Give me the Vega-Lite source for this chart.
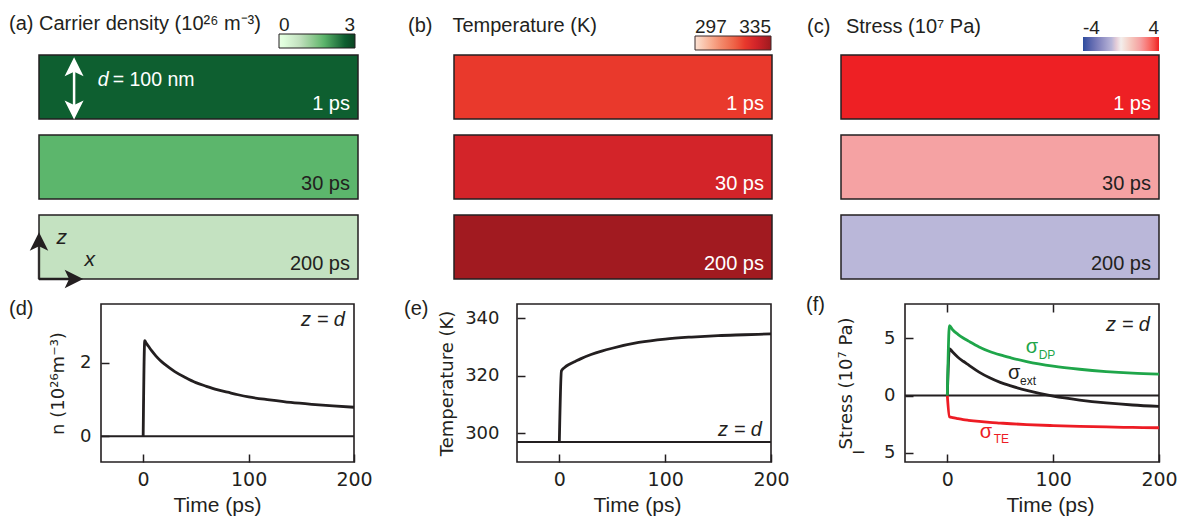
{
  "$schema": "https://vega.github.io/schema/vega-lite/v6.json",
  "background": "white",
  "padding": {"left": 8, "top": 14, "right": 2, "bottom": 2},
  "datasets": {
    "carrier": [{"time": "1 ps", "n": 2.6}, {"time": "30 ps", "n": 1.76}, {"time": "200 ps", "n": 0.79}],
    "tempmap": [{"time": "1 ps", "T": 321.7}, {"time": "30 ps", "T": 327.4}, {"time": "200 ps", "T": 334.6}],
    "stressmap": [{"time": "1 ps", "s": 4.0}, {"time": "30 ps", "s": 2.0}, {"time": "200 ps", "s": -0.94}],
    "dens": [
      {"t": 0, "n": 0}, {"t": 1.5, "n": 2.6}, {"t": 3, "n": 2.53}, {"t": 5, "n": 2.45}, {"t": 8, "n": 2.33},
      {"t": 12, "n": 2.19}, {"t": 16, "n": 2.07}, {"t": 20, "n": 1.97}, {"t": 25, "n": 1.86}, {"t": 30, "n": 1.76},
      {"t": 40, "n": 1.6}, {"t": 50, "n": 1.46}, {"t": 60, "n": 1.36}, {"t": 70, "n": 1.27}, {"t": 80, "n": 1.2},
      {"t": 90, "n": 1.13}, {"t": 100, "n": 1.07}, {"t": 120, "n": 0.99}, {"t": 140, "n": 0.92}, {"t": 160, "n": 0.87},
      {"t": 180, "n": 0.83}, {"t": 200, "n": 0.79}
    ],
    "temp": [
      {"t": 0, "T": 297}, {"t": 2, "T": 321.7}, {"t": 5, "T": 322.9}, {"t": 10, "T": 324.1}, {"t": 15, "T": 325},
      {"t": 20, "T": 325.9}, {"t": 30, "T": 327.4}, {"t": 40, "T": 328.6}, {"t": 50, "T": 329.6}, {"t": 75, "T": 331.6},
      {"t": 100, "T": 332.8}, {"t": 125, "T": 333.5}, {"t": 150, "T": 334.0}, {"t": 175, "T": 334.3}, {"t": 200, "T": 334.6}
    ],
    "stress": [
      {"t": 0, "series": "ext", "s": 0}, {"t": 2, "series": "ext", "s": 4.1}, {"t": 5, "series": "ext", "s": 3.8},
      {"t": 10, "series": "ext", "s": 3.35}, {"t": 15, "series": "ext", "s": 3.0}, {"t": 20, "series": "ext", "s": 2.68},
      {"t": 30, "series": "ext", "s": 2.05}, {"t": 40, "series": "ext", "s": 1.55}, {"t": 50, "series": "ext", "s": 1.15},
      {"t": 60, "series": "ext", "s": 0.85}, {"t": 75, "series": "ext", "s": 0.45}, {"t": 100, "series": "ext", "s": -0.05},
      {"t": 125, "series": "ext", "s": -0.39}, {"t": 150, "series": "ext", "s": -0.64}, {"t": 175, "series": "ext", "s": -0.82},
      {"t": 200, "series": "ext", "s": -0.94},
      {"t": 0, "series": "TE", "s": 0}, {"t": 2, "series": "TE", "s": -1.85}, {"t": 5, "series": "TE", "s": -1.93},
      {"t": 10, "series": "TE", "s": -2.02}, {"t": 15, "series": "TE", "s": -2.1}, {"t": 20, "series": "TE", "s": -2.16},
      {"t": 30, "series": "TE", "s": -2.26}, {"t": 40, "series": "TE", "s": -2.34}, {"t": 50, "series": "TE", "s": -2.4},
      {"t": 60, "series": "TE", "s": -2.46}, {"t": 75, "series": "TE", "s": -2.53}, {"t": 100, "series": "TE", "s": -2.62},
      {"t": 125, "series": "TE", "s": -2.69}, {"t": 150, "series": "TE", "s": -2.74}, {"t": 175, "series": "TE", "s": -2.78},
      {"t": 200, "series": "TE", "s": -2.81},
      {"t": 0, "series": "DP", "s": 0}, {"t": 2, "series": "DP", "s": 6.1}, {"t": 5, "series": "DP", "s": 5.75},
      {"t": 10, "series": "DP", "s": 5.35}, {"t": 15, "series": "DP", "s": 5.03}, {"t": 20, "series": "DP", "s": 4.76},
      {"t": 30, "series": "DP", "s": 4.25}, {"t": 40, "series": "DP", "s": 3.85}, {"t": 50, "series": "DP", "s": 3.55},
      {"t": 60, "series": "DP", "s": 3.3}, {"t": 75, "series": "DP", "s": 2.97}, {"t": 100, "series": "DP", "s": 2.57},
      {"t": 125, "series": "DP", "s": 2.3}, {"t": 150, "series": "DP", "s": 2.1}, {"t": 175, "series": "DP", "s": 1.96},
      {"t": 200, "series": "DP", "s": 1.87}
    ]
  },
  "config": {
    "view": {"stroke": "#231f20", "strokeWidth": 1.6},
    "axis": {
      "domain": false, "grid": false, "tickColor": "#231f20", "tickWidth": 1.5, "tickSize": -8,
      "labelColor": "#231f20", "titleColor": "#231f20", "labelFont": "DejaVu Sans", "titleFont": "DejaVu Sans",
      "titleFontWeight": "normal", "labelFlush": false, "labelOverlap": false
    },
    "title": {"font": "Liberation Sans", "fontSize": 20, "fontWeight": "normal", "color": "#231f20", "anchor": "start", "frame": "group", "baseline": "alphabetic"},
    "text": {"font": "Liberation Sans", "color": "#231f20"},
    "legend": {"labelFont": "Liberation Sans", "labelFontSize": 19, "labelColor": "#231f20", "padding": 0}
  },
  "spacing": 4,
  "vconcat": [
    {
      "spacing": 49,
      "resolve": {"scale": {"color": "independent"}, "legend": {"color": "independent"}},
      "hconcat": [
        {
          "width": 319, "height": 224,
          "view": {"stroke": null},
          "title": {"text": "(a) Carrier density (10\u00b2\u2076 m\u207b\u00b3)", "dx": -30, "offset": 0},
          "layer": [
            {
              "data": {"name": "carrier"},
              "mark": {"type": "rect", "stroke": "#231f20", "strokeWidth": 1.5},
              "encoding": {
                "y": {"field": "time", "type": "nominal", "scale": {"type": "band", "domain": ["1 ps", "30 ps", "200 ps"], "paddingInner": 0.2, "paddingOuter": 0}, "axis": null},
                "x": {"datum": 0, "type": "quantitative", "scale": {"domain": [0, 1]}, "axis": null},
                "x2": {"datum": 1},
                "color": {
                  "field": "n", "type": "quantitative",
                  "scale": {"domain": [0, 0.79, 1.76, 2.6, 3], "range": ["#ffffff", "#c4e2c1", "#5cb66c", "#0e5f30", "#0b4423"]},
                  "legend": {"orient": "none", "legendX": 240, "legendY": -21, "direction": "horizontal", "gradientLength": 76, "gradientThickness": 14, "title": null, "values": [0, 3], "labelOffset": -32, "gradientStrokeColor": "#231f20", "gradientStrokeWidth": 1}
                }
              }
            },
            {
              "data": {"name": "carrier"},
              "mark": {"type": "text", "align": "right", "baseline": "alphabetic", "dx": -8, "dy": -9, "fontSize": 20},
              "encoding": {
                "y": {"field": "time", "type": "nominal", "bandPosition": 1, "scale": {"type": "band", "domain": ["1 ps", "30 ps", "200 ps"], "paddingInner": 0.2, "paddingOuter": 0}, "axis": null},
                "x": {"datum": 1, "type": "quantitative", "axis": null},
                "text": {"field": "time"},
                "color": {"condition": {"test": "datum.time === '1 ps'", "value": "white"}, "value": "#231f20"}
              }
            },
            {
              "data": {"values": [{"time": "1 ps"}]},
              "layer": [
                {
                  "mark": {"type": "tick", "color": "white", "thickness": 2.5, "size": 44, "opacity": 1},
                  "encoding": {
                    "y": {"field": "time", "type": "nominal", "scale": {"type": "band", "domain": ["1 ps", "30 ps", "200 ps"], "paddingInner": 0.2, "paddingOuter": 0}, "axis": null},
                    "x": {"datum": 0.11, "type": "quantitative", "axis": null}
                  }
                },
                {
                  "mark": {"type": "point", "shape": "M0,-1 L0.95,0.9 L0,0.45 L-0.95,0.9 Z", "filled": true, "color": "white", "size": 400, "opacity": 1},
                  "encoding": {
                    "y": {"field": "time", "type": "nominal", "bandPosition": 0.19, "scale": {"type": "band", "domain": ["1 ps", "30 ps", "200 ps"], "paddingInner": 0.2, "paddingOuter": 0}, "axis": null},
                    "x": {"datum": 0.11, "type": "quantitative", "axis": null}
                  }
                },
                {
                  "mark": {"type": "point", "shape": "M0,1 L0.95,-0.9 L0,-0.45 L-0.95,-0.9 Z", "filled": true, "color": "white", "size": 400, "opacity": 1},
                  "encoding": {
                    "y": {"field": "time", "type": "nominal", "bandPosition": 0.85, "scale": {"type": "band", "domain": ["1 ps", "30 ps", "200 ps"], "paddingInner": 0.2, "paddingOuter": 0}, "axis": null},
                    "x": {"datum": 0.11, "type": "quantitative", "axis": null}
                  }
                },
                {
                  "mark": {"type": "text", "text": "d", "fontStyle": "italic", "fontSize": 19.5, "color": "white", "align": "left", "baseline": "alphabetic", "dy": -1},
                  "encoding": {
                    "y": {"field": "time", "type": "nominal", "bandPosition": 0.5, "scale": {"type": "band", "domain": ["1 ps", "30 ps", "200 ps"], "paddingInner": 0.2, "paddingOuter": 0}, "axis": null},
                    "x": {"datum": 0.184, "type": "quantitative", "axis": null}
                  }
                },
                {
                  "mark": {"type": "text", "text": "= 100 nm", "fontSize": 19.5, "color": "white", "align": "left", "baseline": "alphabetic", "dy": -1, "dx": 15},
                  "encoding": {
                    "y": {"field": "time", "type": "nominal", "bandPosition": 0.5, "scale": {"type": "band", "domain": ["1 ps", "30 ps", "200 ps"], "paddingInner": 0.2, "paddingOuter": 0}, "axis": null},
                    "x": {"datum": 0.184, "type": "quantitative", "axis": null}
                  }
                }
              ]
            },
            {
              "data": {"values": [{"time": "200 ps"}]},
              "layer": [
                {
                  "mark": {"type": "rule", "color": "#231f20", "strokeWidth": 2.5},
                  "encoding": {
                    "y": {"field": "time", "type": "nominal", "bandPosition": 1, "scale": {"type": "band", "domain": ["1 ps", "30 ps", "200 ps"], "paddingInner": 0.2, "paddingOuter": 0}, "axis": null},
                    "x": {"datum": 0, "type": "quantitative", "axis": null},
                    "x2": {"datum": 0.11}
                  }
                },
                {
                  "mark": {"type": "tick", "color": "#231f20", "thickness": 2.5, "size": 38, "yOffset": 13},
                  "encoding": {
                    "y": {"field": "time", "type": "nominal", "scale": {"type": "band", "domain": ["1 ps", "30 ps", "200 ps"], "paddingInner": 0.2, "paddingOuter": 0}, "axis": null},
                    "x": {"datum": 0, "type": "quantitative", "axis": null}
                  }
                },
                {
                  "mark": {"type": "point", "shape": "M1,0 L-0.9,0.95 L-0.45,0 L-0.9,-0.95 Z", "filled": true, "color": "#231f20", "size": 380, "opacity": 1},
                  "encoding": {
                    "y": {"field": "time", "type": "nominal", "bandPosition": 1, "scale": {"type": "band", "domain": ["1 ps", "30 ps", "200 ps"], "paddingInner": 0.2, "paddingOuter": 0}, "axis": null},
                    "x": {"datum": 0.108, "type": "quantitative", "axis": null}
                  }
                },
                {
                  "mark": {"type": "point", "shape": "M0,-1 L0.95,0.9 L0,0.45 L-0.95,0.9 Z", "filled": true, "color": "#231f20", "size": 380, "opacity": 1},
                  "encoding": {
                    "y": {"field": "time", "type": "nominal", "bandPosition": 0.42, "scale": {"type": "band", "domain": ["1 ps", "30 ps", "200 ps"], "paddingInner": 0.2, "paddingOuter": 0}, "axis": null},
                    "x": {"datum": 0, "type": "quantitative", "axis": null}
                  }
                },
                {
                  "mark": {"type": "text", "text": "z", "fontStyle": "italic", "fontSize": 21, "align": "left", "baseline": "alphabetic"},
                  "encoding": {
                    "y": {"field": "time", "type": "nominal", "bandPosition": 0.45, "scale": {"type": "band", "domain": ["1 ps", "30 ps", "200 ps"], "paddingInner": 0.2, "paddingOuter": 0}, "axis": null},
                    "x": {"datum": 0.055, "type": "quantitative", "axis": null}
                  }
                },
                {
                  "mark": {"type": "text", "text": "x", "fontStyle": "italic", "fontSize": 21, "align": "left", "baseline": "alphabetic"},
                  "encoding": {
                    "y": {"field": "time", "type": "nominal", "bandPosition": 0.79, "scale": {"type": "band", "domain": ["1 ps", "30 ps", "200 ps"], "paddingInner": 0.2, "paddingOuter": 0}, "axis": null},
                    "x": {"datum": 0.143, "type": "quantitative", "axis": null}
                  }
                }
              ]
            }
          ]
        },
        {
          "bounds": "flush",
          "spacing": 69,
          "resolve": {"scale": {"color": "independent"}, "legend": {"color": "independent"}},
          "hconcat": [
            {
              "width": 318, "height": 224,
              "view": {"stroke": null},
              "title": {"text": "(b)\u2002\u2002Temperature (K)", "dx": -46, "offset": 0},
              "data": {"name": "tempmap"},
              "layer": [
                {
                  "mark": {"type": "rect", "stroke": "#231f20", "strokeWidth": 1.5},
                  "encoding": {
                    "y": {"field": "time", "type": "nominal", "scale": {"type": "band", "domain": ["1 ps", "30 ps", "200 ps"], "paddingInner": 0.2, "paddingOuter": 0}, "axis": null},
                    "x": {"datum": 0, "type": "quantitative", "scale": {"domain": [0, 1]}, "axis": null},
                    "x2": {"datum": 1},
                    "color": {
                      "field": "T", "type": "quantitative",
                      "scale": {"domain": [297, 310, 321.7, 327.4, 335], "range": ["#fbe2d5", "#f38a6c", "#e9392c", "#d32429", "#9e1a1f"]},
                      "legend": {"orient": "none", "legendX": 241, "legendY": -19, "direction": "horizontal", "gradientLength": 76, "gradientThickness": 14, "title": null, "values": [297, 335], "labelOffset": -32, "gradientStrokeColor": "#3a2a2a", "gradientStrokeWidth": 1}
                    }
                  }
                },
                {
                  "mark": {"type": "text", "align": "right", "baseline": "alphabetic", "dx": -8, "dy": -9, "fontSize": 20, "color": "white"},
                  "encoding": {
                    "y": {"field": "time", "type": "nominal", "bandPosition": 1, "scale": {"type": "band", "domain": ["1 ps", "30 ps", "200 ps"], "paddingInner": 0.2, "paddingOuter": 0}, "axis": null},
                    "x": {"datum": 1, "type": "quantitative", "axis": null},
                    "text": {"field": "time"}
                  }
                }
              ]
            },
            {
              "width": 318, "height": 224,
              "view": {"stroke": null},
              "title": {"text": "(c)\u2002 Stress (10\u2077 Pa)", "dx": -34, "offset": 0},
              "data": {"name": "stressmap"},
              "layer": [
                {
                  "mark": {"type": "rect", "stroke": "#231f20", "strokeWidth": 1.5},
                  "encoding": {
                    "y": {"field": "time", "type": "nominal", "scale": {"type": "band", "domain": ["1 ps", "30 ps", "200 ps"], "paddingInner": 0.2, "paddingOuter": 0}, "axis": null},
                    "x": {"datum": 0, "type": "quantitative", "scale": {"domain": [0, 1]}, "axis": null},
                    "x2": {"datum": 1},
                    "color": {
                      "field": "s", "type": "quantitative",
                      "scale": {"domain": [-4, -0.94, 0, 2.0, 4], "range": ["#2d4c9e", "#bab7d9", "#f3eeec", "#f5a2a3", "#ee2024"]},
                      "legend": {"orient": "none", "legendX": 242, "legendY": -18, "direction": "horizontal", "gradientLength": 76, "gradientThickness": 14, "title": null, "values": [-4, 4], "labelOffset": -32, "gradientStrokeWidth": 0, "labelExpr": "replace(datum.label, '\u2212', '-')"}
                    }
                  }
                },
                {
                  "mark": {"type": "text", "align": "right", "baseline": "alphabetic", "dx": -8, "dy": -9, "fontSize": 20},
                  "encoding": {
                    "y": {"field": "time", "type": "nominal", "bandPosition": 1, "scale": {"type": "band", "domain": ["1 ps", "30 ps", "200 ps"], "paddingInner": 0.2, "paddingOuter": 0}, "axis": null},
                    "x": {"datum": 1, "type": "quantitative", "axis": null},
                    "text": {"field": "time"},
                    "color": {"condition": {"test": "datum.time === '1 ps'", "value": "white"}, "value": "#231f20"}
                  }
                }
              ]
            }
          ]
        }
      ]
    },
    {
      "bounds": "flush",
      "spacing": 60,
      "hconcat": [
        {
          "width": 2, "height": 2,
          "view": {"stroke": null},
          "data": {"values": [{}]},
          "mark": {"type": "point", "opacity": 0}
        },
        {
          "spacing": 30,
          "hconcat": [
            {
              "width": 253, "height": 158,
              "title": {"text": "(d)", "dx": -92, "offset": -14.6},
              "layer": [
                {
                  "data": {"values": [{}]},
                  "mark": {"type": "rule", "color": "#231f20", "strokeWidth": 2},
                  "encoding": {"y": {"datum": 0, "type": "quantitative"}}
                },
                {
                  "data": {"name": "dens"},
                  "mark": {"type": "line", "color": "#231f20", "strokeWidth": 2.8, "interpolate": "monotone"},
                  "encoding": {
                    "x": {"field": "t", "type": "quantitative", "scale": {"domain": [-40, 200], "nice": false, "zero": false},
                      "axis": {"values": [0, 100, 200], "title": "Time (ps)", "titleFont": "Liberation Sans", "titleFontSize": 21, "labelFontSize": 19, "labelPadding": 16, "titlePadding": 5, "titleX": 116}},
                    "y": {"field": "n", "type": "quantitative", "scale": {"domain": [-0.7, 3.6], "nice": false, "zero": false},
                      "axis": {"values": [0, 2], "title": "n (10\u00b2\u2076m\u207b\u00b3)", "titleFontSize": 18, "labelFontSize": 18, "labelPadding": 18, "titlePadding": 12}}
                  }
                },
                {
                  "data": {"values": [{}]},
                  "mark": {"type": "text", "text": "z = d", "fontStyle": "italic", "fontSize": 20, "align": "right", "baseline": "alphabetic", "dx": -9},
                  "encoding": {"x": {"datum": 200, "type": "quantitative"}, "y": {"datum": 3.0, "type": "quantitative"}}
                }
              ]
            },
            {
              "bounds": "flush",
              "spacing": 134,
              "hconcat": [
                {
                  "width": 254, "height": 158,
                  "title": {"text": "(e)", "dx": -113, "offset": -14.6},
                  "layer": [
                    {
                      "data": {"values": [{}]},
                      "mark": {"type": "rule", "color": "#231f20", "strokeWidth": 2},
                      "encoding": {"y": {"datum": 297, "type": "quantitative"}}
                    },
                    {
                      "data": {"name": "temp"},
                      "mark": {"type": "line", "color": "#231f20", "strokeWidth": 2.8, "interpolate": "monotone"},
                      "encoding": {
                        "x": {"field": "t", "type": "quantitative", "scale": {"domain": [-40, 200], "nice": false, "zero": false},
                          "axis": {"values": [0, 100, 200], "title": "Time (ps)", "titleFont": "Liberation Sans", "titleFontSize": 21, "labelFontSize": 19, "labelPadding": 16, "titlePadding": 5, "titleX": 120}},
                        "y": {"field": "T", "type": "quantitative", "scale": {"domain": [290, 345], "nice": false, "zero": false},
                          "axis": {"values": [300, 320, 340], "title": "Temperature (K)", "titleFontSize": 18, "labelFontSize": 18, "labelPadding": 26, "titlePadding": 8}}
                      }
                    },
                    {
                      "data": {"values": [{}]},
                      "mark": {"type": "text", "text": "z = d", "fontStyle": "italic", "fontSize": 20, "align": "right", "baseline": "alphabetic", "dx": -9},
                      "encoding": {"x": {"datum": 200, "type": "quantitative"}, "y": {"datum": 299, "type": "quantitative"}}
                    }
                  ]
                },
                {
                  "width": 254, "height": 158,
                  "title": {"text": "(f)", "dx": -99, "offset": -11.5},
                  "resolve": {"axis": {"x": "independent"}},
                  "layer": [
                    {
                      "data": {"values": [{}]},
                      "mark": {"type": "rule", "color": "#231f20", "strokeWidth": 2},
                      "encoding": {"y": {"datum": 0, "type": "quantitative"}}
                    },
                    {
                      "data": {"name": "stress"},
                      "mark": {"type": "line", "strokeWidth": 2.8, "interpolate": "monotone"},
                      "encoding": {
                        "x": {"field": "t", "type": "quantitative", "scale": {"domain": [-40, 200], "nice": false, "zero": false},
                          "axis": {"values": [0, 100, 200], "title": "Time (ps)", "titleFont": "Liberation Sans", "titleFontSize": 21, "labelFontSize": 19, "labelPadding": 16, "titlePadding": 5, "titleX": 145}},
                        "y": {"field": "s", "type": "quantitative", "scale": {"domain": [-5.8, 8], "nice": false, "zero": false},
                          "axis": {"values": [-5, 0, 5], "title": "Stress (10\u2077 Pa)", "titleFontSize": 18, "labelFontSize": 18, "labelPadding": 18, "titlePadding": -5, "labelExpr": "datum.value < 0 ? '\u2212\u20035' : datum.label"}},
                        "color": {"field": "series", "type": "nominal", "scale": {"domain": ["ext", "TE", "DP"], "range": ["#231f20", "#ed1c24", "#1fa64a"]}, "legend": null}
                      }
                    },
                    {
                      "data": {"values": [{}]},
                      "mark": {"type": "text", "text": "z = d", "fontStyle": "italic", "fontSize": 20, "align": "right", "baseline": "alphabetic", "dx": -9},
                      "encoding": {
                        "x": {"datum": 200, "type": "quantitative", "axis": {"orient": "top", "values": [0, 100], "labels": false, "title": null}},
                        "y": {"datum": 5.68, "type": "quantitative"}
                      }
                    },
                    {
                      "data": {"values": [{}]},
                      "mark": {"type": "text", "text": "\u03c3", "fontSize": 20, "align": "left", "baseline": "alphabetic", "color": "#1fa64a"},
                      "encoding": {"x": {"datum": 74, "type": "quantitative", "axis": null}, "y": {"datum": 3.68, "type": "quantitative"}}
                    },
                    {
                      "data": {"values": [{}]},
                      "mark": {"type": "text", "text": "DP", "fontSize": 12, "align": "left", "baseline": "alphabetic", "color": "#1fa64a", "dx": 13, "dy": 6},
                      "encoding": {"x": {"datum": 74, "type": "quantitative", "axis": null}, "y": {"datum": 3.68, "type": "quantitative"}}
                    },
                    {
                      "data": {"values": [{}]},
                      "mark": {"type": "text", "text": "\u03c3", "fontSize": 20, "align": "left", "baseline": "alphabetic", "color": "#231f20"},
                      "encoding": {"x": {"datum": 57.3, "type": "quantitative", "axis": null}, "y": {"datum": 1.44, "type": "quantitative"}}
                    },
                    {
                      "data": {"values": [{}]},
                      "mark": {"type": "text", "text": "ext", "fontSize": 12, "align": "left", "baseline": "alphabetic", "color": "#231f20", "dx": 12, "dy": 6},
                      "encoding": {"x": {"datum": 57.3, "type": "quantitative", "axis": null}, "y": {"datum": 1.44, "type": "quantitative"}}
                    },
                    {
                      "data": {"values": [{}]},
                      "mark": {"type": "text", "text": "\u03c3", "fontSize": 20, "align": "left", "baseline": "alphabetic", "color": "#ed1c24"},
                      "encoding": {"x": {"datum": 30.6, "type": "quantitative", "axis": null}, "y": {"datum": -3.67, "type": "quantitative"}}
                    },
                    {
                      "data": {"values": [{}]},
                      "mark": {"type": "text", "text": "TE", "fontSize": 12, "align": "left", "baseline": "alphabetic", "color": "#ed1c24", "dx": 14, "dy": 5},
                      "encoding": {"x": {"datum": 30.6, "type": "quantitative", "axis": null}, "y": {"datum": -3.67, "type": "quantitative"}}
                    }
                  ]
                }
              ]
            }
          ]
        }
      ]
    }
  ]
}
